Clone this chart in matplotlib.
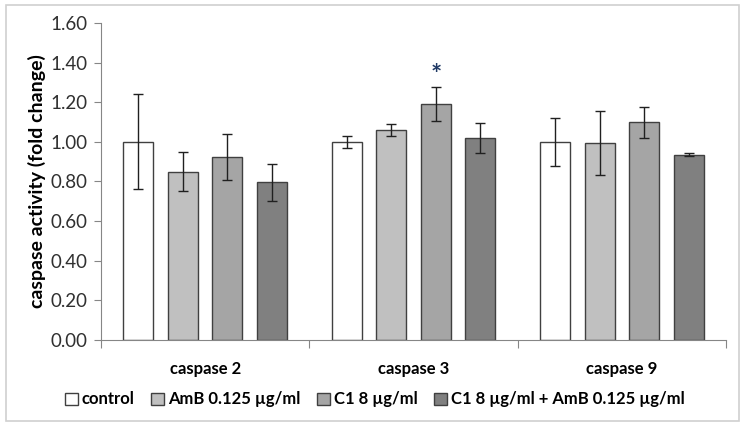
import numpy as np
import matplotlib.pyplot as plt
from matplotlib.patches import Rectangle

# caspase activity data
groups = ["caspase 2", "caspase 3", "caspase 9"]
series = ["control", "AmB 0.125 µg/ml", "C1 8 µg/ml", "C1 8 µg/ml + AmB 0.125 µg/ml"]
control = [1.00, 1.00, 1.00]
amb = [0.85, 1.06, 0.995]
c1 = [0.925, 1.19, 1.10]
combo = [0.795, 1.02, 0.935]
control_err = [0.24, 0.03, 0.12]
amb_err = [0.10, 0.03, 0.16]
c1_err = [0.117, 0.087, 0.078]
combo_err = [0.093, 0.075, 0.007]
colors = ["#ffffff", "#c0c0c0", "#a5a5a5", "#808080"]

plt.rcParams['font.family'] = ['Lato', 'DejaVu Sans']

fig = plt.figure(figsize=(7.45, 4.28), dpi=100)
ax = fig.add_axes([0.1356, 0.2056, 0.839, 0.7407])

# outer chart frame
fig.patches.append(Rectangle((0.008, 0.016), 0.984, 0.972, transform=fig.transFigure,
                             fill=False, edgecolor="#d0d0d0", linewidth=1.2))

x = np.arange(len(groups))
w = 0.144
step = 0.214
vals = [control, amb, c1, combo]
errs = [control_err, amb_err, c1_err, combo_err]
for i in range(4):
    pos = x + (i - 1.5) * step
    ax.bar(pos, vals[i], w, color=colors[i], edgecolor="#404040", linewidth=1.0,
           label=series[i], zorder=2)
    ax.errorbar(pos, vals[i], yerr=errs[i], fmt="none", ecolor="#202020",
                elinewidth=1.0, capsize=3.5, capthick=1.0, zorder=3)

# significance marker
ax.text(x[1] + 0.5 * step, c1[1] + c1_err[1] + 0.0, "*", ha="center", va="bottom",
        fontsize=19, fontweight="bold", color="#1f3864")

ax.set_xlim(-0.5, 2.5)
ax.set_ylim(0, 1.6)
ax.set_yticks(np.arange(0, 1.61, 0.2))
ax.set_yticklabels([f"{v:.2f}" for v in np.arange(0, 1.61, 0.2)], fontsize=13.5, color="#303030")
ax.set_xticks([-0.5, 0.5, 1.5, 2.5])
ax.set_xticklabels([])
ax.set_xticks(x, minor=True)
ax.set_xticklabels(groups, minor=True, fontsize=12, fontweight="bold")
ax.tick_params(axis="x", which="minor", length=0, pad=15)
ax.tick_params(axis="x", which="major", length=6, color="#868686", direction="out")
ax.tick_params(axis="y", length=5, color="#868686", direction="out", pad=5)
ax.set_ylabel("caspase activity (fold change)", fontsize=14, fontweight="bold", labelpad=3)

for s in ["top", "right"]:
    ax.spines[s].set_visible(False)
for s in ["left", "bottom"]:
    ax.spines[s].set_color("#868686")

ax.legend(loc="upper center", bbox_to_anchor=(0.438, -0.115), ncol=4, frameon=False,
          prop={"weight": "bold", "size": 12}, handlelength=0.75, handleheight=0.75,
          handletextpad=0.25, columnspacing=1.0)

fig.savefig("out.png", dpi=100)
